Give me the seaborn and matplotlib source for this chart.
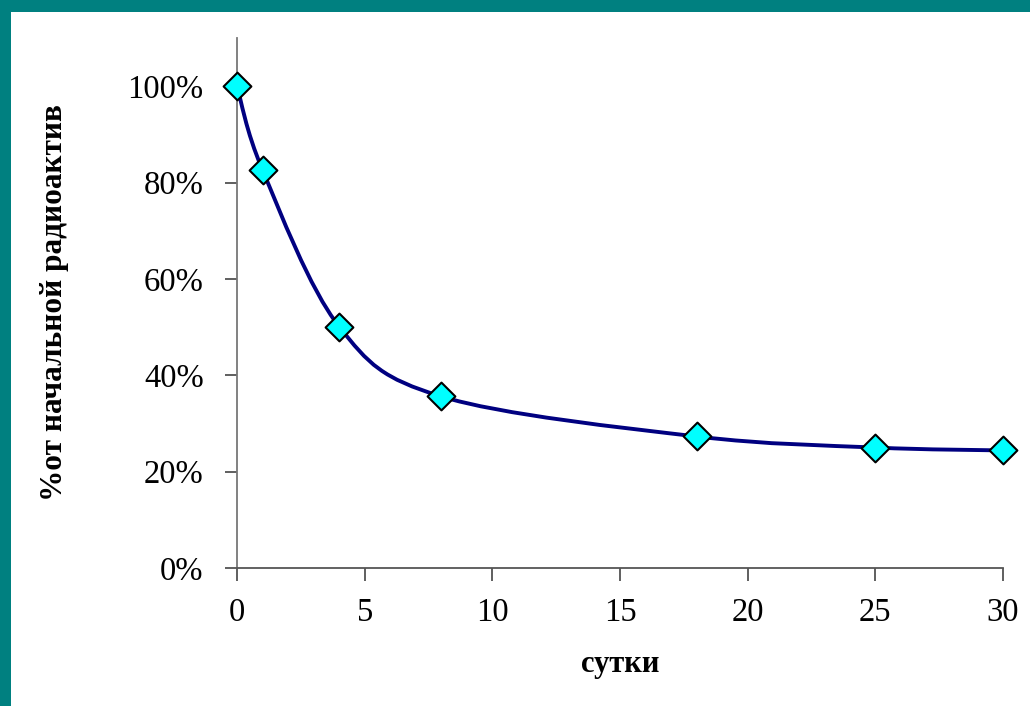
import numpy as np
import pandas as pd
import matplotlib
matplotlib.use("Agg")
import matplotlib.pyplot as plt
from matplotlib.path import Path
from matplotlib.patches import PathPatch, Rectangle
import seaborn as sns

days = [0, 1, 4, 8, 18, 25, 30]
activity = [1.00, 0.826, 0.501, 0.356, 0.273, 0.250, 0.244]
x_ticks = [0, 5, 10, 15, 20, 25, 30]
y_ticks = [0.0, 0.2, 0.4, 0.6, 0.8, 1.0]
x_label = "сутки"
y_label = "%от начальной радиоактив"

df = pd.DataFrame({"days": days, "activity": activity})

sns.set_theme(style="white")
plt.rcParams["font.family"] = ["Liberation Serif", "DejaVu Serif"]

fig = plt.figure(figsize=(10.30, 7.06), dpi=100)
fig.patch.set_facecolor("white")
# slide frame (teal band at top and left)
fig.patches.append(Rectangle((0, 1 - 12 / 706), 1, 12 / 706, transform=fig.transFigure,
                             facecolor="#008080", edgecolor="none", zorder=0))
fig.patches.append(Rectangle((0, 0), 11 / 1030, 1, transform=fig.transFigure,
                             facecolor="#008080", edgecolor="none", zorder=0))

ax = fig.add_axes([237 / 1030, 1 - 568 / 706, (1003 - 237) / 1030, (568 - 38) / 706])
ax.set_facecolor("white")

# smoothed line (Excel-like Bezier smoothing through the data points)
xs = np.array(days, dtype=float)
ys = np.array(activity, dtype=float)
verts = [(xs[0], ys[0])]
codes = [Path.MOVETO]
n = len(xs)
for i in range(n - 1):
    p0 = np.array([xs[max(i - 1, 0)], ys[max(i - 1, 0)]])
    p1 = np.array([xs[i], ys[i]])
    p2 = np.array([xs[i + 1], ys[i + 1]])
    p3 = np.array([xs[min(i + 2, n - 1)], ys[min(i + 2, n - 1)]])
    c1 = p1 + (p2 - p0) / 6.0
    c2 = p2 - (p3 - p1) / 6.0
    verts += [tuple(c1), tuple(c2), tuple(p2)]
    codes += [Path.CURVE4] * 3
ax.add_patch(PathPatch(Path(verts, codes), facecolor="none", edgecolor="#000080",
                       linewidth=2.8, zorder=2, capstyle="round", joinstyle="round"))

sns.scatterplot(data=df, x="days", y="activity", ax=ax, marker="D", s=200,
                color="#00FFFF", edgecolor="black", linewidth=1.5, zorder=3, clip_on=False)

ax.set_xlim(0, 30)
ax.set_ylim(0, 1.1)
ax.set_xticks(x_ticks)
ax.set_yticks(y_ticks)
ax.set_xticklabels([str(v) for v in x_ticks])
ax.set_yticklabels([f"{int(round(v * 100))}%" for v in y_ticks])

for s in ["top", "right"]:
    ax.spines[s].set_visible(False)
ax.spines["left"].set_color("#777777")
ax.spines["bottom"].set_color("#555555")
for s in ["left", "bottom"]:
    ax.spines[s].set_linewidth(1.3)

ax.tick_params(axis="both", which="major", direction="out", length=9, width=1.2,
               color="#444444", labelsize=23.5, labelcolor="black",
               bottom=True, left=True)
ax.tick_params(axis="y", pad=15)
ax.tick_params(axis="x", pad=12)

ax.set_xlabel(x_label, fontsize=22, fontweight="bold", color="black")
ax.set_ylabel(y_label, fontsize=22.5, fontweight="bold", color="black")
ax.yaxis.set_label_coords(-0.219, 0.5)
ax.xaxis.set_label_coords(0.5, -0.155)

fig.savefig("out.png", dpi=100, facecolor="white")
